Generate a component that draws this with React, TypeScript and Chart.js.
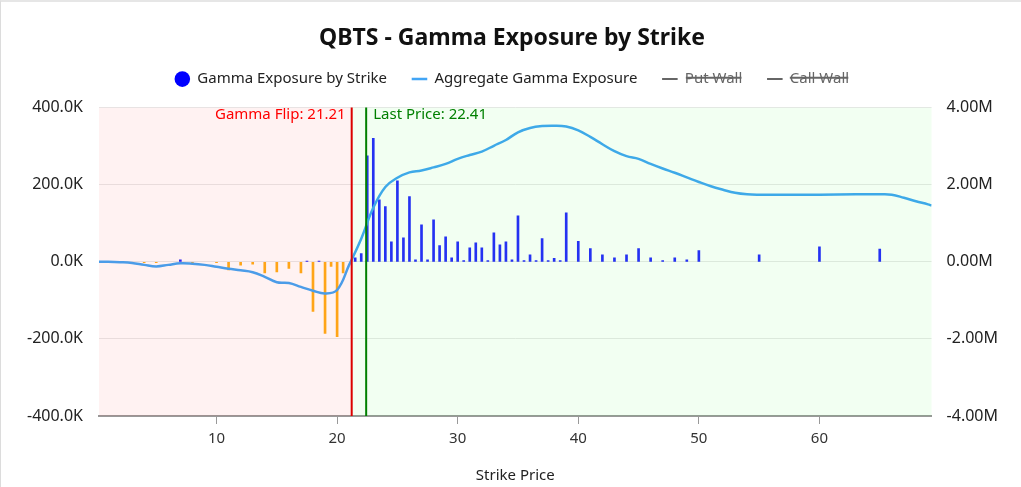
import React, { useEffect, useRef } from "react";
import { Chart, registerables } from "chart.js";

Chart.register(...registerables);

const TITLE = "QBTS - Gamma Exposure by Strike";
const GAMMA_FLIP = 21.21;
const LAST_PRICE = 22.41;
const X_MIN = 0.25;
const X_MAX = 69.3;

const barStrikes = [4, 5, 7, 8, 10, 11, 12, 13, 14, 15, 16, 17, 17.5, 18, 18.5, 19, 19.5, 20, 20.5, 21.5, 22, 22.5, 23, 23.5, 24, 24.5, 25, 25.5, 26, 26.5, 27, 27.5, 28, 28.5, 29, 29.5, 30, 30.5, 31, 31.5, 32, 32.5, 33, 33.5, 34, 34.5, 35, 35.5, 36, 36.5, 37, 37.5, 38, 38.5, 39, 40, 41, 42, 43, 44, 45, 46, 47, 48, 49, 50, 55, 60, 65];
const barValuesK = [-2, -2, 5, -2, -2, -21, -9, -6, -29, -26, -17, -29, 2, -129, 2, -186, -12, -194, -29, 10, 21, 275, 320, 161, 143, 52, 210, 62, 169, 5, 96, 5, 109, 42, 65, 10, 52, 3, 36, 49, 36, 3, 75, 44, 52, 5, 119, 3, 18, 3, 60, 3, 9, 3, 127, 53, 34, 18, 10, 18, 34, 10, 3, 10, 5, 29, 18, 39, 33];

const curveStrikes = [0.25, 1, 2, 3, 4, 5, 6, 7, 8, 9, 10, 11, 12, 13, 14, 15, 16, 17, 18, 19, 20, 21, 22, 23, 24, 25, 26, 27, 28, 29, 30, 31, 32, 33, 34, 35, 36, 37, 38, 39, 40, 41, 42, 43, 44, 45, 46, 47, 48, 49, 50, 51, 52, 53, 54, 55, 57, 60, 63, 65, 66, 67, 68, 69, 69.3];
const curveValuesM = [0, 0, -0.01, -0.03, -0.08, -0.12, -0.08, -0.04, -0.05, -0.08, -0.13, -0.18, -0.22, -0.27, -0.39, -0.53, -0.55, -0.65, -0.75, -0.82, -0.73, -0.08, 0.6, 1.4, 1.94, 2.18, 2.32, 2.37, 2.45, 2.54, 2.67, 2.77, 2.86, 3.01, 3.16, 3.36, 3.47, 3.52, 3.53, 3.51, 3.41, 3.24, 3.05, 2.87, 2.74, 2.67, 2.54, 2.42, 2.31, 2.19, 2.07, 1.96, 1.87, 1.79, 1.75, 1.74, 1.74, 1.74, 1.75, 1.75, 1.74, 1.66, 1.57, 1.49, 1.46];

const leftTicks = [-400000, -200000, 0, 200000, 400000];
const rightTicks = [-4000000, -2000000, 0, 2000000, 4000000];

const FONT = "'Noto Sans', 'Open Sans', sans-serif";

const zonesPlugin = {
  id: "zones",
  afterDatasetsDraw(chart: any) {
    const { ctx, chartArea, scales } = chart;
    const x = scales.x;
    const flipX = x.getPixelForValue(GAMMA_FLIP);
    const lastX = x.getPixelForValue(LAST_PRICE);
    ctx.save();
    ctx.fillStyle = "rgba(255, 0, 0, 0.05)";
    ctx.fillRect(chartArea.left, chartArea.top, flipX - chartArea.left, chartArea.bottom - chartArea.top);
    ctx.fillStyle = "rgba(0, 255, 0, 0.05)";
    ctx.fillRect(flipX, chartArea.top, chartArea.right - flipX, chartArea.bottom - chartArea.top);

    ctx.lineWidth = 2;
    ctx.strokeStyle = "rgb(220, 0, 0)";
    ctx.beginPath();
    ctx.moveTo(flipX, chartArea.top);
    ctx.lineTo(flipX, chartArea.bottom);
    ctx.stroke();
    ctx.strokeStyle = "green";
    ctx.beginPath();
    ctx.moveTo(lastX, chartArea.top);
    ctx.lineTo(lastX, chartArea.bottom);
    ctx.stroke();

    ctx.font = "15px " + FONT;
    ctx.textBaseline = "middle";
    ctx.fillStyle = "red";
    ctx.textAlign = "right";
    ctx.fillText("Gamma Flip: " + GAMMA_FLIP.toFixed(2), flipX - 6, chartArea.top + 7);
    ctx.fillStyle = "green";
    ctx.textAlign = "left";
    ctx.fillText("Last Price: " + LAST_PRICE.toFixed(2), lastX + 7, chartArea.top + 7);
    ctx.restore();
  },
};

const legendSpacePlugin = {
  id: "legendSpace",
  beforeInit(chart: any) {
    const legend = chart.legend;
    if (!legend) return;
    const origFit = legend.fit;
    legend.fit = function () {
      origFit.call(this);
      this.height += 11;
    };
  },
};

export default function App() {
  const ref = useRef<HTMLCanvasElement | null>(null);

  useEffect(() => {
    if (!ref.current) return;
    const barData = barStrikes.map((s, i) => ({ x: s, y: barValuesK[i] * 1000 }));
    const curveData = curveStrikes.map((s, i) => ({ x: s, y: curveValuesM[i] * 1e6 }));
    const barColors = barValuesK.map((v) => (v >= 0 ? "rgba(0, 0, 255, 0.85)" : "rgba(255, 165, 0, 0.9)"));

    const chart = new Chart(ref.current, {
      type: "bar",
      data: {
        datasets: [
          {
            type: "bar",
            label: "Gamma Exposure by Strike",
            data: barData,
            backgroundColor: barColors,
            borderWidth: 0,
            barThickness: 2,
            yAxisID: "y",
            pointStyle: "circle",
            order: 2,
          } as any,
          {
            type: "line",
            label: "Aggregate Gamma Exposure",
            data: curveData,
            borderColor: "#42A5F5",
            backgroundColor: "#42A5F5",
            borderWidth: 2.5,
            pointRadius: 0,
            tension: 0.4,
            fill: false,
            yAxisID: "y1",
            pointStyle: "line",
            order: 1,
          },
          {
            type: "line",
            label: "Put Wall",
            data: [{ x: 20, y: -400000 }, { x: 20, y: 400000 }],
            borderColor: "#666",
            backgroundColor: "#666",
            borderWidth: 2,
            pointRadius: 0,
            yAxisID: "y",
            pointStyle: "line",
            hidden: true,
            order: 3,
          },
          {
            type: "line",
            label: "Call Wall",
            data: [{ x: 23, y: -400000 }, { x: 23, y: 400000 }],
            borderColor: "#666",
            backgroundColor: "#666",
            borderWidth: 2,
            pointRadius: 0,
            yAxisID: "y",
            pointStyle: "line",
            hidden: true,
            order: 4,
          },
        ],
      },
      options: {
        responsive: true,
        maintainAspectRatio: false,
        animation: false,
        layout: { padding: { left: 10, right: 8, top: 14, bottom: 2 } },
        plugins: {
          title: {
            display: true,
            text: TITLE,
            color: "#111",
            font: { family: FONT, size: 23, weight: "bold" },
            padding: { top: 9, bottom: -6 },
          },
          legend: {
            labels: {
              usePointStyle: true,
              boxWidth: 15,
              boxHeight: 11,
              padding: 25,
              color: "#222",
              font: { family: FONT, size: 15 },
              sort: (a: any, b: any) => a.datasetIndex - b.datasetIndex,
              generateLabels: (chart: any) => {
                const items = Chart.defaults.plugins.legend.labels.generateLabels(chart);
                items.forEach((it: any) => {
                  if (it.datasetIndex === 0) {
                    it.fillStyle = "#0000ff";
                    it.strokeStyle = "#0000ff";
                  }
                  if (it.hidden) it.fontColor = "#666";
                });
                return items;
              },
            },
          },
          tooltip: { enabled: false },
        },
        scales: {
          x: {
            type: "linear",
            min: X_MIN,
            max: X_MAX,
            offset: false,
            grid: { display: true, offset: false, drawOnChartArea: false, drawTicks: true, tickLength: 8, color: "#999" },
            border: { display: true, color: "#999", width: 2 },
            ticks: {
              stepSize: 10,
              includeBounds: false,
              color: "#333",
              font: { family: FONT, size: 15 },
              padding: 6,
            },
            title: {
              display: true,
              text: "Strike Price",
              color: "#222",
              font: { family: FONT, size: 15 },
              padding: { top: 13, bottom: 0 },
            },
          },
          y: {
            type: "linear",
            position: "left",
            min: -400000,
            max: 400000,
            afterBuildTicks: (axis: any) => {
              axis.ticks = leftTicks.map((v) => ({ value: v }));
            },
            grid: { color: "#e8e8e8", drawTicks: false },
            border: { display: false },
            ticks: {
              color: "#222",
              font: { family: FONT, size: 16 },
              padding: 16,
              callback: (v: any) => (Number(v) / 1000).toFixed(1) + "K",
            },
          },
          y1: {
            type: "linear",
            position: "right",
            min: -4000000,
            max: 4000000,
            afterBuildTicks: (axis: any) => {
              axis.ticks = rightTicks.map((v) => ({ value: v }));
            },
            grid: { drawOnChartArea: false, drawTicks: false },
            border: { display: false },
            ticks: {
              color: "#222",
              font: { family: FONT, size: 16 },
              padding: 15,
              callback: (v: any) => (Number(v) / 1e6).toFixed(2) + "M",
            },
          },
        },
      } as any,
      plugins: [zonesPlugin, legendSpacePlugin],
    });
    return () => chart.destroy();
  }, []);

  return (
    <div
      style={{
        position: "fixed",
        left: 0,
        top: 0,
        width: 1021,
        height: 487,
        boxSizing: "border-box",
        borderTop: "2px solid #e6e6e6",
        borderLeft: "1px solid #dcdcdc",
        background: "#fff",
      }}
    >
      <div style={{ position: "relative", width: "100%", height: "100%" }}>
        <canvas ref={ref} />
      </div>
    </div>
  );
}
